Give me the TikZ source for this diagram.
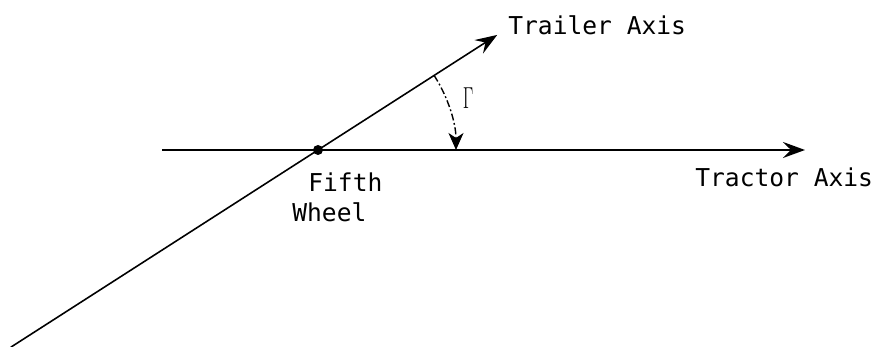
\documentclass[tikz,border=0pt]{standalone}
\usepackage{fontspec}
\setmonofont{DejaVu Sans Mono}
\usetikzlibrary{positioning,arrows.meta,calc}
\tikzset{
  axisline/.style={line width=1.2pt, -{Stealth[length=4.4mm, width=3.2mm, inset=1.6mm]}},
  trailerline/.style={line width=0.9pt, -{Stealth[length=4.4mm, width=3.2mm, inset=1.6mm]}},
  gammaarc/.style={line width=0.8pt, dash pattern=on 4pt off 1.5pt on 1pt off 1.5pt,
    -{Stealth[length=3.4mm, width=3mm, inset=1mm]}},
  axislabel/.style={font=\ttfamily\fontsize{14}{17}\selectfont, anchor=base west, inner sep=0pt},
  wheeldot/.style={circle, fill=black, inner sep=0pt, minimum size=2mm},
}

\begin{document}
\begin{tikzpicture}[x=0.02cm, y=0.02cm]
  \useasboundingbox (0,0) rectangle (880,347);
  % the hitch point
  \coordinate (fw) at (318,197);
  \coordinate (tractorstart) at (162,197);
  \coordinate (tractorend) at (805,197);
  \coordinate (trailerstart) at ($(fw)+(212.7:365)$);
  \coordinate (trailerend) at ($(fw)+(32.7:213)$);
  \coordinate (arcstart) at ($(fw)+(32.7:138)$);
  % axes
  \draw[axisline] (tractorstart) -- (tractorend);
  \draw[trailerline] (trailerstart) -- (trailerend);
  \node[wheeldot] (wheel) at (fw) {};
  % articulation angle
  \draw[gammaarc] (arcstart) arc[start angle=32.7, end angle=0, radius=138];
  \node (gamma) at (468,249) {\scalebox{0.6}[1]{\fontsize{16}{19}\selectfont$\Gamma$}};
  % labels
  \node[axislabel] (trailerlabel) at (508,312) {Trailer Axis};
  \node[axislabel] (tractorlabel) at (695,160) {Tractor Axis};
  \node[axislabel] (fifthlabel) at (308,155) {Fifth};
  \node[axislabel] (wheellabel) at (292,125) {Wheel};
\end{tikzpicture}
\end{document}
